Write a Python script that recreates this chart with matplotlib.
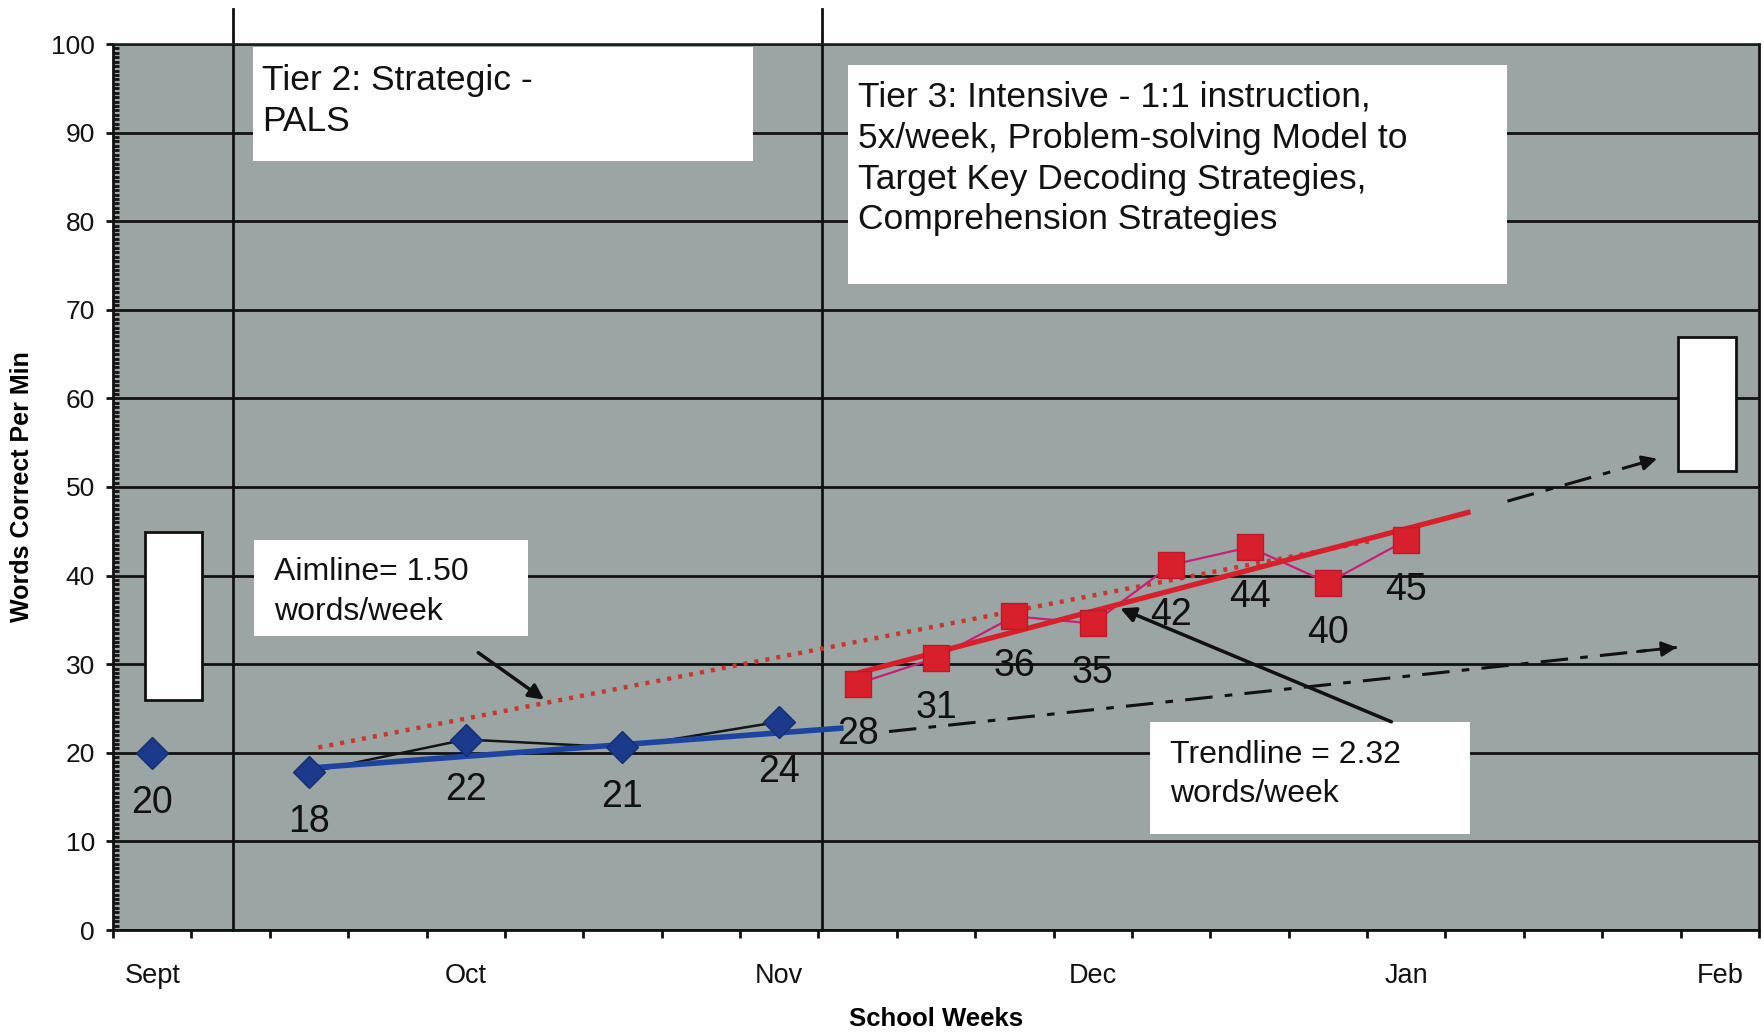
import matplotlib
matplotlib.use("Agg")
import matplotlib.pyplot as plt
from matplotlib.patches import Rectangle
from matplotlib.ticker import MultipleLocator, FixedLocator
import numpy as np

plt.rcParams['font.family'] = ['Liberation Sans', 'DejaVu Sans']

# ---------------- data ----------------
month_labels = ["Sept", "Oct", "Nov", "Dec", "Jan", "Feb"]
month_weeks = [0, 4, 8, 12, 16, 20]
n_weeks = 21

# Tier 2 (blue diamonds)
blue_weeks = [0, 2, 4, 6, 8]
blue_wcpm = [20.0, 17.8, 21.5, 20.6, 23.5]
blue_labels = ["20", "18", "22", "21", "24"]

# Tier 3 (red squares)
red_weeks = [9, 10, 11, 12, 13, 14, 15, 16]
red_wcpm = [27.8, 30.7, 35.4, 34.6, 41.2, 43.2, 39.2, 44.0]
red_labels = ["28", "31", "36", "35", "42", "44", "40", "45"]

# trend / aim lines (end points)
blue_trend_x = [2.04, 8.82]
blue_trend_y = [18.3, 22.8]
red_trend_x = [9.0, 16.82]
red_trend_y = [29.0, 47.2]
aim_x = [2.12, 15.6]
aim_y = [20.6, 44.0]

# projection (dash-dot) arrows
proj1_x = [9.4, 19.45]
proj1_y = [22.4, 31.9]
proj2_x = [17.29, 19.2]
proj2_y = [48.4, 53.2]

# phase-change lines
phase_x = [1.03, 8.54]

# benchmark boxes (week range, wcpm range)
bench_left = ([-0.09, 0.64], [26.0, 44.9])
bench_right = ([19.47, 20.21], [51.8, 66.9])

# ---------------- figure ----------------
W, H = 1765, 1032
fig = plt.figure(figsize=(W / 100, H / 100), dpi=100)
L, R, T, B = 113, 1759, 44, 930
ax = fig.add_axes([L / W, 1 - B / H, (R - L) / W, (B - T) / H])
ax.set_facecolor('#9ba5a3')
ax.set_xlim(-0.5, n_weeks - 0.5)
ax.set_ylim(0, 100)

# axes styling
for s in ['left', 'bottom', 'right']:
    ax.spines[s].set_linewidth(2.0)
    ax.spines[s].set_color('#111111')
ax.spines['top'].set_linewidth(1.2)
ax.spines['top'].set_color('#222222')

ax.set_yticks(np.arange(0, 101, 10))
ax.yaxis.set_minor_locator(MultipleLocator(0.5))
ax.tick_params(axis='y', which='major', direction='out', length=5, width=2,
               labelsize=19, pad=8, colors='#111111')
ax.tick_params(axis='y', which='minor', direction='in', length=4, width=2.0,
               colors='#111111')
ax.grid(axis='y', which='major', color='#111111', linewidth=2.0)
ax.set_axisbelow(True)

ax.set_xticks(month_weeks)
ax.set_xticklabels(month_labels)
ax.xaxis.set_minor_locator(FixedLocator(np.arange(-0.5, n_weeks, 1.0)))
ax.tick_params(axis='x', which='major', length=0, labelsize=19.5, pad=24,
               colors='#111111')
ax.tick_params(axis='x', which='minor', direction='out', length=6, width=2,
               colors='#111111')

ax.set_xlabel("School Weeks", fontsize=18.5, fontweight='bold', labelpad=13)
ax.set_ylabel("Words Correct Per Min", fontsize=18, fontweight='bold', labelpad=12)

# phase-change vertical lines (extend above the plot)
for xv in phase_x:
    ax.plot([xv, xv], [0, 104], color='#111111', lw=2.0, clip_on=False, zorder=2)

# benchmark boxes
for (bx, by) in (bench_left, bench_right):
    ax.add_patch(Rectangle((bx[0], by[0]), bx[1] - bx[0], by[1] - by[0],
                           facecolor='white', edgecolor='#111111', lw=2, zorder=3))

# text boxes
def text_box(x0, x1, y0, y1, left, lines, size):
    ax.add_patch(Rectangle((x0, y0), x1 - x0, y1 - y0, facecolor='white',
                           edgecolor='none', zorder=3))
    for yc, s in zip(left[1], lines):
        ax.text(left[0], yc, s, fontsize=size, ha='left', va='center_baseline',
                color='#111111', zorder=4)

text_box(1.29, 7.66, 86.8, 99.7, (1.40, [96.3, 91.7]),
         ["Tier 2: Strategic -", "PALS"], 25.5)
text_box(8.88, 17.29, 72.9, 97.6, (9.0, [94.4, 89.7, 85.1, 80.6]),
         ["Tier 3: Intensive - 1:1 instruction,",
          "5x/week, Problem-solving Model to",
          "Target Key Decoding Strategies,",
          "Comprehension Strategies"], 25.5)
text_box(1.30, 4.79, 33.2, 44.0, (1.55, [40.8, 36.3]),
         ["Aimline= 1.50", "words/week"], 23)
text_box(12.73, 16.81, 10.8, 23.5, (12.99, [20.1, 15.8]),
         ["Trendline = 2.32", "words/week"], 23)

# aimline
ax.plot(aim_x, aim_y, color='#c8372d', lw=3.2, linestyle=(0, (0.9, 1.6)),
        dash_capstyle='butt', zorder=4)

# blue series
ax.plot(blue_weeks[1:], blue_wcpm[1:], color='#151515', lw=1.8, zorder=4)
ax.plot(blue_trend_x, blue_trend_y, color='#1d44a0', lw=4.0,
        solid_capstyle='butt', zorder=5)
ax.plot(blue_weeks, blue_wcpm, linestyle='none', marker='D', markersize=16,
        color='#1c3a8c', markeredgecolor='#162f73', zorder=6)

# red series
ax.plot(red_weeks, red_wcpm, color='#c81f7a', lw=1.6, zorder=4)
ax.plot(red_trend_x, red_trend_y, color='#d8202c', lw=3.8,
        solid_capstyle='butt', zorder=5)
ax.plot(red_weeks, red_wcpm, linestyle='none', marker='s', markersize=19,
        color='#d81f2c', markeredgecolor='#c0182a', zorder=6)

# data labels
for xw, yv, lab in list(zip(blue_weeks, blue_wcpm, blue_labels)) + \
        list(zip(red_weeks, red_wcpm, red_labels)):
    ax.annotate(lab, (xw, yv), xytext=(0, -36), textcoords='offset points',
                ha='center', va='center', fontsize=27, color='#111111', zorder=7)

# projection dash-dot arrows
for px, py in ((proj1_x, proj1_y), (proj2_x, proj2_y)):
    ax.plot(px, py, color='#111111', lw=2.2, linestyle=(0, (9, 4, 2.5, 4)), zorder=4)
    ax.annotate('', xy=(px[1], py[1]),
                xytext=(px[1] - 0.05 * (px[1] - px[0]), py[1] - 0.05 * (py[1] - py[0])),
                arrowprops=dict(arrowstyle='-|>,head_length=0.9,head_width=0.45',
                                color='#111111', lw=2.0, shrinkA=0, shrinkB=0),
                zorder=4)

# annotation arrows
ax.annotate('', xy=(5.0, 26.0), xytext=(4.16, 31.3),
            arrowprops=dict(arrowstyle='-|>,head_length=0.9,head_width=0.45',
                            color='#111111', lw=2.5, shrinkA=0, shrinkB=0), zorder=6)
ax.annotate('', xy=(12.35, 36.3), xytext=(15.81, 23.5),
            arrowprops=dict(arrowstyle='-|>,head_length=0.9,head_width=0.45',
                            color='#111111', lw=2.5, shrinkA=0, shrinkB=0), zorder=6)

fig.savefig("out.png", dpi=100, facecolor='white')
